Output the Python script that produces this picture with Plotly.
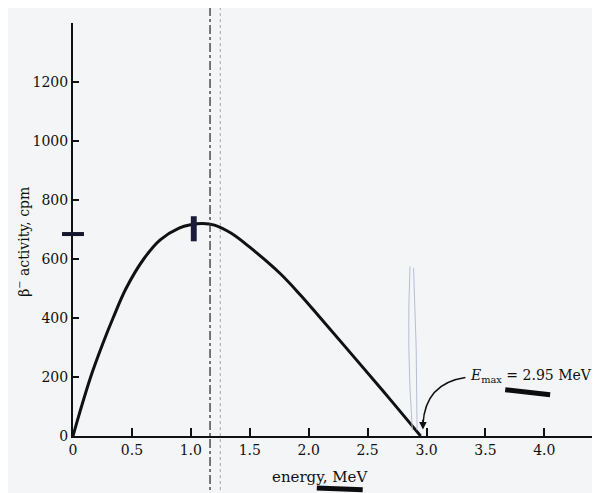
import plotly.graph_objects as go

# Beta spectrum
energy_mev = [0, 0.05, 0.15, 0.25, 0.34, 0.45, 0.60, 0.74, 0.90, 1.00, 1.10, 1.20,
              1.34, 1.50, 1.76, 1.93, 2.10, 2.44, 2.70, 2.95]
activity_cpm = [0, 70, 200, 310, 400, 500, 600, 665, 705, 716, 720, 715,
                688, 640, 550, 478, 400, 242, 120, 0]

x_ticks = [0, 0.5, 1.0, 1.5, 2.0, 2.5, 3.0, 3.5, 4.0]
x_tick_labels = ["0", "0.5", "1.0", "1.5", "2.0", "2.5", "3.0", "3.5", "4.0"]
y_ticks = [0, 200, 400, 600, 800, 1000, 1200, 1400]
y_tick_labels = ["0", "200", "400", "600", "800", "1000", "1200", ""]

e_max = 2.95

SERIF = "DejaVu Serif, Liberation Serif, serif"
INK = "#111111"
BG = "#f3f5f6"

fig = go.Figure()
fig.add_trace(go.Scatter(
    x=energy_mev, y=activity_cpm, mode="lines",
    line=dict(color=INK, width=3, shape="spline", smoothing=1.0),
    hoverinfo="skip", showlegend=False,
))

# the page body has an 8px default margin, so the figure is sized to fit inside it
fig.update_layout(
    width=592, height=485,
    margin=dict(l=65, r=5, t=15, b=57),
    paper_bgcolor=BG, plot_bgcolor=BG,
    font=dict(family=SERIF, size=14, color=INK),
    showlegend=False,
    xaxis=dict(
        range=[0, 4.43], tickvals=x_ticks, ticktext=x_tick_labels,
        showgrid=False, zeroline=False, showline=True, linecolor=INK, linewidth=2,
        ticks="inside", ticklen=8, tickwidth=1.5, tickcolor=INK,
        tickfont=dict(family=SERIF, size=14, color=INK),
    ),
    yaxis=dict(
        range=[0, 1400], tickvals=y_ticks, ticktext=y_tick_labels,
        showgrid=False, zeroline=False, showline=True, linecolor=INK, linewidth=2,
        ticks="inside", ticklen=6, tickwidth=1.5, tickcolor=INK,
        tickfont=dict(family=SERIF, size=14, color=INK),
    ),
)

# axis titles
fig.add_annotation(text="β<sup>−</sup> activity, cpm", xref="paper", yref="paper",
                   x=-0.096, y=0.47, xanchor="center", yanchor="middle",
                   textangle=-90, showarrow=False,
                   font=dict(family=SERIF, size=14, color=INK))
fig.add_annotation(text="energy, MeV", xref="paper", yref="paper",
                   x=0.473, y=-0.099, xanchor="center", yanchor="middle",
                   showarrow=False,
                   font=dict(family=SERIF, size=15, color=INK))

# E_max label with curved arrow
fig.add_annotation(text="<i>E</i><sub>max</sub> = 2.95 MeV", x=3.35, y=203,
                   xanchor="left", yanchor="middle", showarrow=False,
                   font=dict(family=SERIF, size=14, color=INK))
fig.add_shape(type="path", xref="x", yref="y",
              path=f"M 3.33,198 Q 2.99,178 {e_max + 0.02},40",
              line=dict(color=INK, width=1.5))
fig.add_annotation(x=e_max + 0.02, y=22, ax=e_max + 0.02, ay=60, xref="x", yref="y",
                   axref="x", ayref="y", text="", showarrow=True,
                   arrowhead=2, arrowsize=1, arrowwidth=1.5, arrowcolor=INK)

# scan artefacts: fold lines and hand marks
fig.add_shape(type="line", xref="x", yref="paper", x0=1.163, x1=1.163, y0=-0.16, y1=1.08,
              line=dict(color="#333333", width=1.3, dash="dashdot"))
fig.add_shape(type="line", xref="x", yref="paper", x0=1.25, x1=1.25, y0=-0.16, y1=1.08,
              line=dict(color="#a5a5a5", width=1, dash="dot"))
fig.add_shape(type="line", xref="paper", yref="paper", x0=-0.021, x1=0.021, y0=0.489, y1=0.489,
              line=dict(color="#15152e", width=4))
fig.add_shape(type="rect", xref="x", yref="y", x0=1.0, x1=1.05, y0=660, y1=745,
              fillcolor="#1b1b3a", line=dict(width=0))
fig.add_shape(type="path", xref="paper", yref="paper",
              path="M 0.828,0.112 L 0.914,0.100", line=dict(color="#0d0d0d", width=5))
fig.add_shape(type="path", xref="paper", yref="paper",
              path="M 0.467,-0.126 L 0.555,-0.130", line=dict(color="#0d0d0d", width=5))
fig.add_shape(type="path", xref="x", yref="y",
              path="M 2.86,575 Q 2.83,300 2.88,20 M 2.89,570 Q 2.92,300 2.92,20",
              line=dict(color="#b8bdd6", width=1))

fig.write_html("out.html")
